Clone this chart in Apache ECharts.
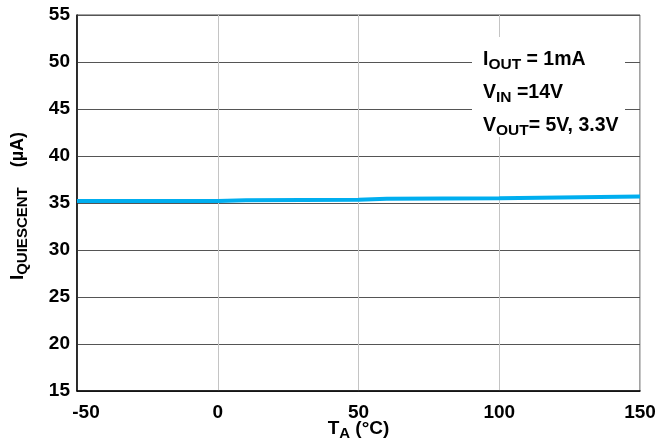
<!DOCTYPE html>
<html>
<head>
<meta charset="utf-8">
<script src="https://cdn.jsdelivr.net/npm/echarts@6/dist/echarts.min.js"></script>
<style>
html,body{margin:0;padding:0;background:#fff;}
#c{width:660px;height:445px;}
</style>
</head>
<body>
<div id="c"></div>
<script>
// Data
const tempC = [-50, 0, 10, 50, 60, 100, 150];
const iqUA = [35.2, 35.2, 35.3, 35.35, 35.45, 35.5, 35.7];
const xTicks = [-50, 0, 50, 100, 150];
const yTicks = [15, 20, 25, 30, 35, 40, 45, 50, 55];
const noteLines = [
  ['I', 'OUT', ' = 1mA'],
  ['V', 'IN', ' =14V'],
  ['V', 'OUT', '= 5V, 3.3V']
];

const FF = '"Liberation Sans", Arial, Helvetica, sans-serif';
const chart = echarts.init(document.getElementById('c'), null, {renderer: 'canvas'});

const richMain = {fontSize: 19.5, fontWeight: 'bold', fontFamily: FF, color: '#000', lineHeight: 22};
const richSub = {fontSize: 15.5, fontWeight: 'bold', fontFamily: FF, color: '#000', padding: [9, 0, 0, 0], lineHeight: 22};

const noteY = [60, 93, 126];
const graphics = [{
  type: 'rect', shape: {x: 472, y: 37, width: 153, height: 100},
  style: {fill: '#fff'}, z: 100
}];
noteLines.forEach((ln, i) => {
  graphics.push({
    type: 'text', x: 483, y: noteY[i], z: 101,
    style: {
      text: '{m|' + ln[0] + '}{s|' + ln[1] + '}{m|' + ln[2] + '}',
      rich: {m: richMain, s: richSub},
      verticalAlign: 'middle', align: 'left'
    }
  });
});

const axisNameRich = {
  m: {fontSize: 19, fontWeight: 'bold', fontFamily: FF, color: '#000', lineHeight: 22},
  s: {fontSize: 15, fontWeight: 'bold', fontFamily: FF, color: '#000', padding: [9, 0, 0, 0], lineHeight: 22},
  g: {fontSize: 18, fontWeight: 'bold', fontFamily: FF, color: '#000', padding: [0, 0, 0, 20], lineHeight: 22}
};

chart.setOption({
  animation: false,
  backgroundColor: '#fff',
  grid: {left: 77, top: 15, right: 20, bottom: 54, containLabel: false, outerBoundsMode: 'none',
         show: true, borderColor: '#444', borderWidth: 1, backgroundColor: 'transparent'},
  xAxis: {
    type: 'value', min: -50, max: 150, interval: 50,
    axisLine: {show: true, onZero: false, lineStyle: {color: '#000', width: 1.5}},
    axisTick: {show: false},
    splitLine: {show: true, lineStyle: {color: '#c4c4c4', width: 1}},
    axisLabel: {
      margin: 12, color: '#000', fontSize: 19, fontWeight: 'bold', fontFamily: FF,
      formatter: function (v) { return v === xTicks[0] ? '{a|' + v + '}' : String(v); },
      rich: {a: {fontSize: 19, fontWeight: 'bold', fontFamily: FF, color: '#000', padding: [0, 0, 0, 18]}}
    },
    name: '{m|T}{s|A}{m| (°C)}',
    nameLocation: 'middle', nameGap: 27, nameMoveOverlap: false,
    nameTextStyle: {rich: axisNameRich}
  },
  yAxis: {
    type: 'value', min: 15, max: 55, interval: 5,
    axisLine: {show: true, onZero: false, lineStyle: {color: '#000', width: 1.5}},
    axisTick: {show: false},
    splitLine: {show: true, lineStyle: {color: '#555', width: 1}},
    axisLabel: {margin: 7, color: '#000', fontSize: 19, fontWeight: 'bold', fontFamily: FF},
    name: '{m|I}{s|QUIESCENT}{g|(µA)}',
    nameLocation: 'middle', nameRotate: 90, nameGap: 48, nameMoveOverlap: false,
    nameTextStyle: {rich: axisNameRich, padding: [0, 6, 0, 0]}
  },
  series: [{
    type: 'line',
    data: tempC.map((t, i) => [t, iqUA[i]]),
    showSymbol: false, symbol: 'none',
    lineStyle: {color: '#00AEEF', width: 4},
    z: 5
  }],
  graphic: graphics
});
</script>
</body>
</html>
